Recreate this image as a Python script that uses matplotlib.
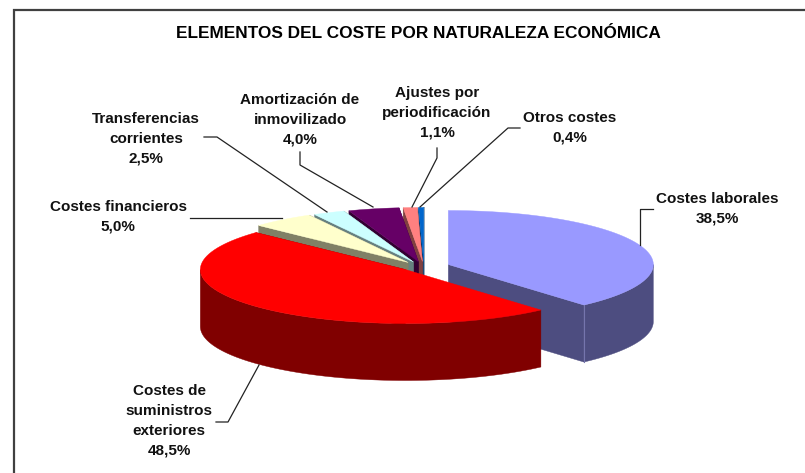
import matplotlib
matplotlib.use('Agg')
import matplotlib.pyplot as plt
from matplotlib.patches import Polygon
import numpy as np

plt.rcParams['font.family'] = ['Liberation Sans', 'DejaVu Sans']

# datos
titulo = 'ELEMENTOS DEL COSTE POR NATURALEZA ECONÓMICA'
etiquetas = ['Costes laborales', 'Costes de\nsuministros\nexteriores', 'Costes financieros',
             'Transferencias\ncorrientes', 'Amortización de\ninmovilizado',
             'Ajustes por\nperiodificación', 'Otros costes']
valores = [38.5, 48.5, 5.0, 2.5, 4.0, 1.1, 0.4]
colores = ['#9999FF', '#FF0000', '#FFFFCC', '#CCFFFF', '#660066', '#FF8080', '#0066CC']
colores_lado = ['#4D4D80', '#800000', '#808066', '#668080', '#330033', '#804040', '#003366']

# posicion de los textos y de las lineas guia (en pixeles)
pos_texto = [(717, 208.5), (169, 421), (118, 217), (146, 138.5), (300, 119.5), (437, 113), (570, 128)]
guias = [[(640, 245), (640, 209), (653, 209)],
         [(259, 365), (228, 422), (216, 422)],
         [(190, 218), (282, 218)],
         [(204, 137), (217, 137), (327, 212)],
         [(300, 152), (300, 165), (373, 207)],
         [(437, 148), (437, 158), (412, 207)],
         [(520, 128), (508, 128), (420, 207)]]

# geometria de la tarta
cx, cy = 424, 266.2
a, b = 205, 54
alto = 57
sep_x, sep_y = 26, 4.75


def punto(centro, ang):
    return centro[0] + a * np.sin(ang), centro[1] - b * np.cos(ang)


def arco(centro, a1, a2, n=80):
    t = np.linspace(a1, a2, n)
    x, y = punto(centro, t)
    return np.column_stack([x, y])


fig = plt.figure(figsize=(8.05, 4.73), dpi=100)
ax = fig.add_axes([0, 0, 1, 1])
ax.set_xlim(0, 805)
ax.set_ylim(473, 0)
ax.axis('off')

limites = np.radians(np.concatenate([[0], np.cumsum(valores)]) * 3.6)
trozos = []
for i in range(len(valores)):
    a1, a2 = limites[i], limites[i + 1]
    med = (a1 + a2) / 2
    centro = (cx + sep_x * np.sin(med), cy - sep_y * np.cos(med))
    trozos.append((a1, a2, centro))

# de atras hacia delante: otros, ajustes, amortizacion, transferencias, financieros, laborales, suministros
orden = [6, 5, 4, 3, 2, 0, 1]
z = 2
for i in orden:
    a1, a2, centro = trozos[i]
    lado = colores_lado[i]
    # cara del corte (la inicial de laborales y suministros no se ve)
    for ang in (a1, a2):
        if i in (0, 1) and ang == a1:
            continue
        px, py = punto(centro, ang)
        cara = [centro, (px, py), (px, py + alto), (centro[0], centro[1] + alto)]
        ax.add_patch(Polygon(cara, closed=True, fc=lado, ec=lado, lw=0.3, zorder=z))
    # pared exterior, solo la parte que mira al frente
    p1, p2 = max(a1, np.pi / 2), min(a2, 3 * np.pi / 2)
    if p2 > p1:
        borde = arco(centro, p1, p2)
        pared = np.vstack([borde, (borde + [0, alto])[::-1]])
        ax.add_patch(Polygon(pared, closed=True, fc=lado, ec=lado, lw=0.3, zorder=z))
    if i == 0:
        px, py = punto(centro, a2)
        ax.plot([px, px], [py, py + alto], color='#7575AD', lw=0.8, zorder=z + 0.5)
    # cara superior
    sup = np.vstack([[centro], arco(centro, a1, a2)])
    ax.add_patch(Polygon(sup, closed=True, fc=colores[i], ec=colores[i], lw=0.3, zorder=z + 0.6))
    z += 1

# marco: solo arriba e izquierda
ax.plot([14, 14, 805], [473, 10, 10], color='#404040', lw=1.6, solid_joinstyle='miter', zorder=1)

ax.text(418.7, 33, titulo, ha='center', va='center', fontsize=12.4, fontweight='bold', color='black')

for i in range(len(valores)):
    txt = etiquetas[i] + '\n' + ('%.1f%%' % valores[i]).replace('.', ',')
    ax.text(pos_texto[i][0], pos_texto[i][1], txt, ha='center', va='center', multialignment='center',
            fontsize=11, fontweight='bold', color='#111111', linespacing=1.52, zorder=30)
    xs, ys = zip(*guias[i])
    ax.plot(xs, ys, color='#222222', lw=0.9, zorder=25)

fig.savefig('out.png', dpi=100)
